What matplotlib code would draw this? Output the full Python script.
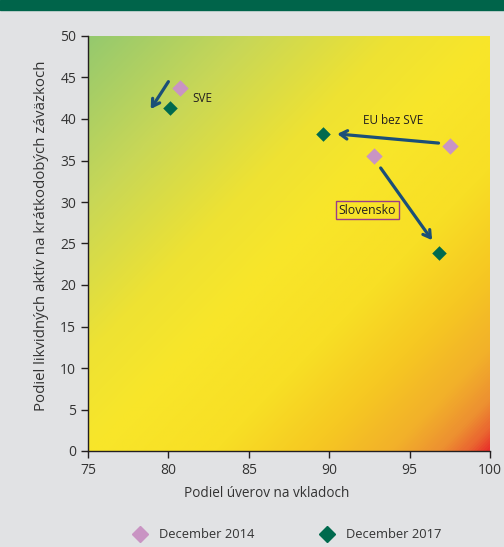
import matplotlib.pyplot as plt
import numpy as np
from matplotlib.colors import LinearSegmentedColormap
from matplotlib.lines import Line2D

plt.rcParams['font.family'] = ['Open Sans', 'DejaVu Sans']

# data
groups = ['SVE', 'EU bez SVE', 'Slovensko']
x_2014 = [80.7, 97.5, 92.8]
y_2014 = [43.7, 36.7, 35.5]
x_2017 = [80.1, 89.6, 96.8]
y_2017 = [41.3, 38.2, 23.9]

# arrows (start -> end), slightly offset from the points like in the original
arrow_start = [(80.0, 44.5), (96.8, 37.1), (93.2, 34.1)]
arrow_end = [(78.9, 41.2), (90.5, 38.2), (96.4, 25.4)]

label_pos = [(81.5, 42.5), (92.1, 39.8), (90.6, 29.0)]

c2014 = '#C994C3'
c2017 = '#006A4E'
arrow_col = '#1B4F78'
txt_col = '#231F20'
bg = '#E1E2E4'

fig = plt.figure(figsize=(5.04, 5.47), dpi=100, facecolor=bg)
ax = fig.add_axes([88/504, 1-451/547, 402/504, 415/547])
ax.set_facecolor(bg)

# top green header strip
fig.patches.append(plt.Rectangle((0, 1-10/547), 1, 10/547, transform=fig.transFigure,
                                 color='#00644A', zorder=0))

# diagonal background gradient
cmap = LinearSegmentedColormap.from_list('bg', [
    (0.0, '#95C96E'), (0.2, '#C8D757'), (0.38, '#EEE233'), (0.5, '#F8E62A'),
    (0.66, '#F8DF25'), (0.78, '#F6C822'), (0.88, '#F2B02A'), (0.94, '#ED9031'),
    (0.975, '#EA6530'), (1.0, '#E8302A')])
u, v = np.meshgrid(np.linspace(0, 1, 400), np.linspace(1, 0, 400))
t = (u + (1 - v)) / 2
ax.imshow(t, extent=[75, 100, 0, 50], aspect='auto', cmap=cmap, vmin=0, vmax=1,
          zorder=0, interpolation='bilinear')

ax.scatter(x_2014, y_2014, marker='D', s=70, color=c2014, zorder=3, linewidths=0)
ax.scatter(x_2017, y_2017, marker='D', s=55, color=c2017, zorder=3, linewidths=0)

for s, e in zip(arrow_start, arrow_end):
    ax.annotate('', xy=e, xytext=s,
                arrowprops=dict(arrowstyle='->,head_length=0.5,head_width=0.3',
                                color=arrow_col, lw=2.3, shrinkA=0, shrinkB=0),
                zorder=4)

for name, (lx, ly) in zip(groups, label_pos):
    if name == 'Slovensko':
        ax.text(lx, ly, name, fontsize=8.8, color=txt_col, va='center', ha='left',
                bbox=dict(boxstyle='square,pad=0.2', fc='none', ec='#9B3C8A', lw=1))
    else:
        ax.text(lx, ly, name, fontsize=8.5, color=txt_col, va='center', ha='left')

ax.set_xlim(75, 100)
ax.set_ylim(0, 50)
ax.set_xticks(range(75, 101, 5))
ax.set_yticks(range(0, 51, 5))
for sp in ['top', 'right']:
    ax.spines[sp].set_visible(False)
for sp in ['left', 'bottom']:
    ax.spines[sp].set_color('#231F20')
    ax.spines[sp].set_linewidth(1.0)
ax.tick_params(direction='out', length=5, width=1, color='#231F20',
               labelsize=10, labelcolor='#333333')

ax.set_xlabel('Podiel úverov na vkladoch', fontsize=9.8, color='#333333')
ax.xaxis.set_label_coords(0.445, -0.085)
ax.set_ylabel('Podiel likvidných aktív na krátkodobých záväzkoch', fontsize=10.8,
              color='#333333')
ax.yaxis.set_label_coords(-0.097, 0.518)

handles = [Line2D([], [], marker='D', ls='none', color=c2014, markersize=8),
           Line2D([], [], marker='D', ls='none', color=c2017, markersize=8)]
fig.legend(handles, ['December 2014', 'December 2017'], loc='center',
           bbox_to_anchor=(284.5/504, 1-535/547), ncol=2, frameon=False,
           fontsize=9.3, columnspacing=4.6, handletextpad=0.5, labelcolor='#333333')

fig.savefig('out.png', dpi=100, facecolor=bg)
